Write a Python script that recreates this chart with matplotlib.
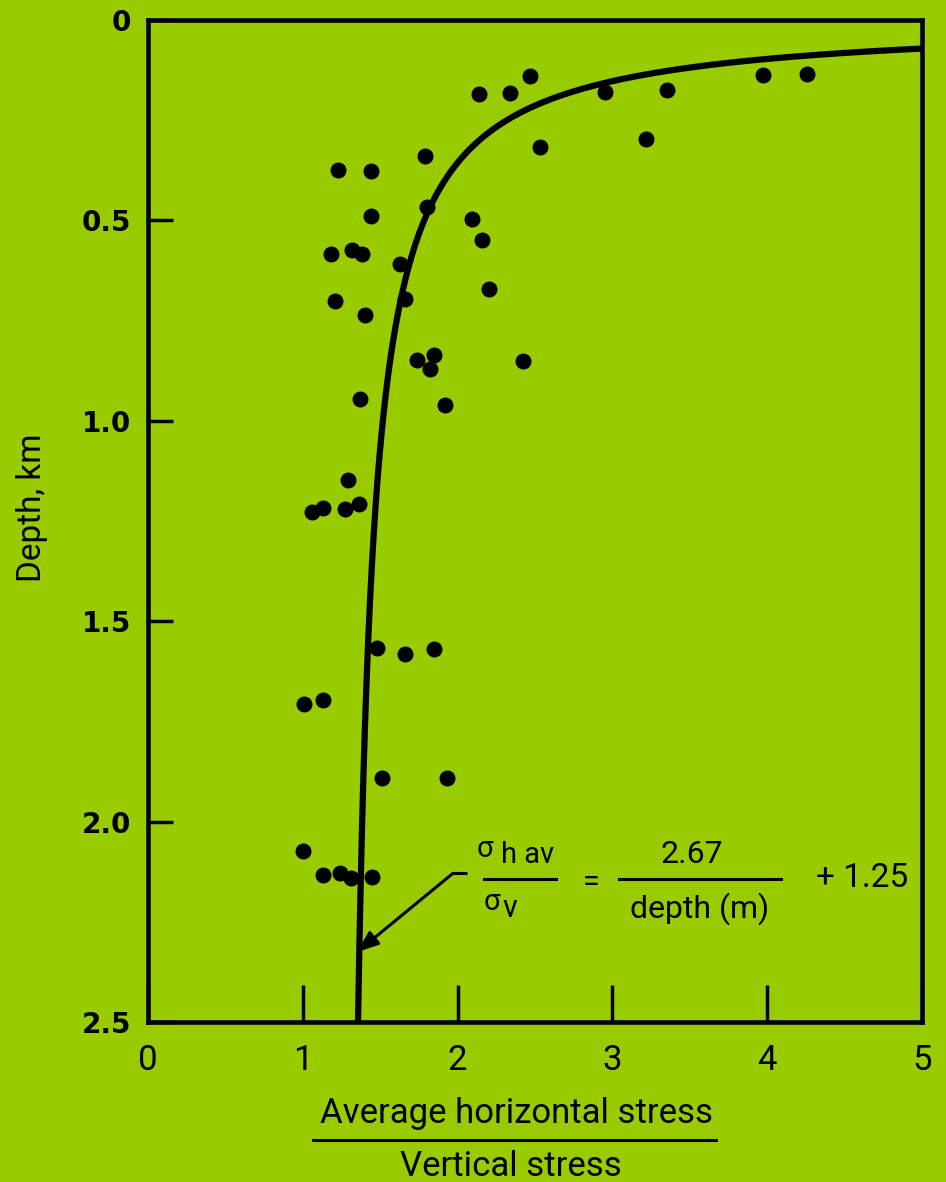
import numpy as np
import matplotlib
matplotlib.use("Agg")
import matplotlib.pyplot as plt

BG = "#99cc00"
NARROW = ["Roboto", "DejaVu Sans"]

# measured stress ratio (average horizontal / vertical) against depth in km
ratio = [2.14, 2.34, 2.47, 2.95, 3.35, 3.22, 3.97, 4.26, 2.53, 1.79,
         1.23, 1.44, 1.44, 1.80, 2.09, 2.16, 1.18, 1.32, 1.38, 1.63,
         2.20, 1.21, 1.66, 1.40, 1.74, 1.85, 1.82, 2.42, 1.37, 1.92,
         1.29, 1.06, 1.13, 1.27, 1.36, 1.48, 1.66, 1.85, 1.01, 1.13,
         1.51, 1.93, 1.00, 1.13, 1.24, 1.31, 1.45]
depth = [0.184, 0.182, 0.139, 0.179, 0.174, 0.296, 0.137, 0.134, 0.316, 0.339,
         0.374, 0.376, 0.488, 0.466, 0.496, 0.548, 0.583, 0.575, 0.583, 0.608,
         0.670, 0.700, 0.697, 0.737, 0.849, 0.837, 0.872, 0.852, 0.946, 0.961,
         1.148, 1.228, 1.218, 1.220, 1.208, 1.566, 1.581, 1.569, 1.706, 1.696,
         1.890, 1.890, 2.074, 2.134, 2.129, 2.141, 2.139]

# fitted trend: ratio = A / depth + B (depth in km here)
fit_a = 0.267
fit_b = 1.25

x_ticks = [0, 1, 2, 3, 4, 5]
y_ticks = [0, 0.5, 1.0, 1.5, 2.0, 2.5]
y_tick_labels = ["0", "0.5", "1.0", "1.5", "2.0", "2.5"]

fig = plt.figure(figsize=(9.46, 11.82), dpi=100, facecolor=BG)
W, H = 946, 1182
ax = fig.add_axes([148 / W, 1 - 1022 / H, (922 - 148) / W, (1022 - 20) / H])
ax.set_facecolor(BG)

z = np.linspace(0.05, 2.5, 600)
ax.plot(fit_a / z + fit_b, z, color="black", lw=4.5, solid_capstyle="butt", zorder=3)
ax.plot(ratio, depth, "o", color="black", ms=10.5, zorder=4)

ax.set_xlim(0, 5)
ax.set_ylim(2.5, 0)

for s in ax.spines.values():
    s.set_linewidth(3.3)

ax.set_xticks(x_ticks)
ax.set_xticklabels([str(v) for v in x_ticks], family=NARROW, fontsize=25)
ax.set_yticks(y_ticks)
ax.set_yticklabels(y_tick_labels, family="DejaVu Sans", fontsize=20, fontweight="bold")
ax.tick_params(axis="x", direction="in", length=27, width=2.5, pad=16)
ax.tick_params(axis="y", direction="in", length=18, width=2.5, pad=12)


def px(x, y):
    # pixel position on the canvas -> data coordinates
    return (x - 148) / 154.8, (y - 18) / 401.6


# equation next to the curve
ax.text(*px(485, 849), "σ", family=NARROW, fontsize=21, ha="center", va="center")
ax.text(*px(528, 855), "h av", family=NARROW, fontsize=21, ha="center", va="center")
ax.plot(*zip(px(484, 879), px(556, 879)), color="black", lw=2.2)
ax.text(*px(492, 902), "σ", family=NARROW, fontsize=21, ha="center", va="center")
ax.text(*px(510, 908), "v", family=NARROW, fontsize=22, ha="center", va="center")
ax.text(*px(591, 882), "=", family=NARROW, fontsize=22, ha="center", va="center")
ax.text(*px(692, 854), "2.67", family=NARROW, fontsize=23, ha="center", va="center")
ax.plot(*zip(px(619, 879), px(781, 879)), color="black", lw=2.2)
ax.text(*px(700, 908), "depth (m)", family=NARROW, fontsize=23, ha="center", va="center")
ax.text(*px(862, 878), "+ 1.25", family=NARROW, fontsize=24, ha="center", va="center")

ax.plot(*zip(px(467, 873), px(453, 873)), color="black", lw=2.2, solid_capstyle="butt")
ax.annotate("", xy=px(357, 952), xytext=px(453, 873),
            arrowprops=dict(arrowstyle="-|>,head_length=1.3,head_width=0.5",
                            color="black", lw=2.2, shrinkA=0, shrinkB=0))

# axis titles
fig.text(32 / W, 1 - 508 / H, "Depth, km", family=NARROW, fontsize=24,
         rotation=90, ha="center", va="center")
fig.text(516 / W, 1 - 1114 / H, "Average horizontal stress", family=NARROW,
         fontsize=25, ha="center", va="center")
fig.add_artist(plt.Line2D([313 / W, 716 / W], [1 - 1140 / H, 1 - 1140 / H],
                          color="black", lw=2.2))
fig.text(511 / W, 1 - 1166 / H, "Vertical stress", family=NARROW,
         fontsize=25, ha="center", va="center")

fig.savefig("out.png", dpi=100, facecolor=BG)
